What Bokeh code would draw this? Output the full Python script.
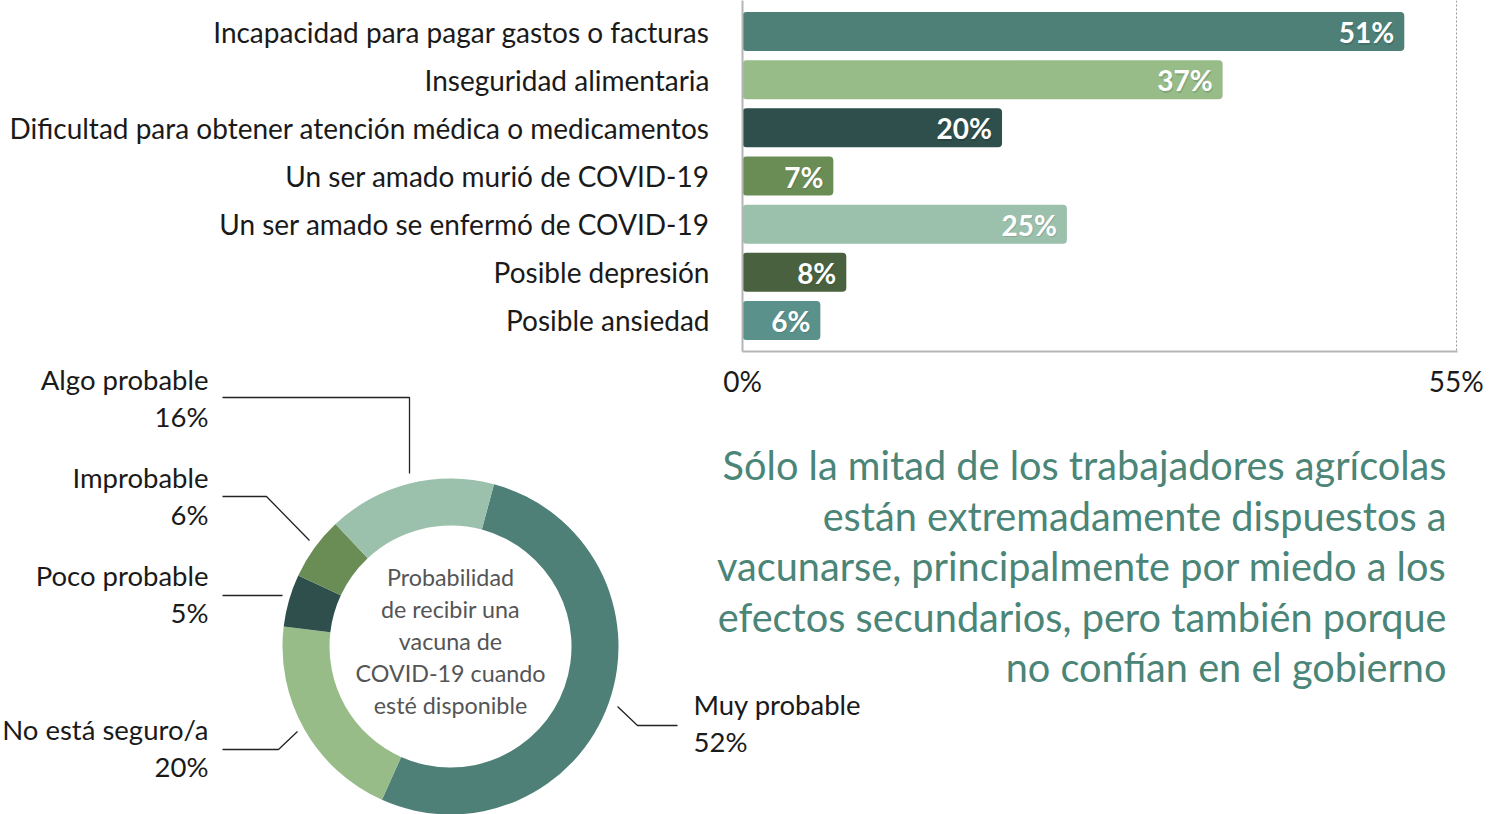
import math
from bokeh.plotting import figure
from bokeh.models import Range1d, FixedTicker, ColumnDataSource
from bokeh.layouts import column
from bokeh.embed import file_html
from bokeh.resources import INLINE
from bokeh.core.properties import value

# ---------------- data ----------------
categories = [
    "Incapacidad para pagar gastos o facturas",
    "Inseguridad alimentaria",
    "Dificultad para obtener atención médica o medicamentos",
    "Un ser amado murió de COVID-19",
    "Un ser amado se enfermó de COVID-19",
    "Posible depresión",
    "Posible ansiedad",
]
bar_values = [51, 37, 20, 7, 25, 8, 6]
bar_colors = ["#4e8078", "#97bc88", "#2e4f4c", "#6a8c55", "#9bc0ab", "#4a613f", "#5a918a"]
x_ticks = [0, 55]
x_tick_labels = ["0%", "55%"]

pie_labels = ["Muy probable", "No está seguro/a", "Poco probable", "Improbable", "Algo probable"]
pie_values = [52, 20, 5, 6, 16]
pie_colors = ["#4e8078", "#97bc88", "#2e4f4c", "#6a8c55", "#9bc0ab"]

center_lines = ["Probabilidad", "de recibir una", "vacuna de", "COVID-19 cuando", "esté disponible"]
headline_lines = [
    "Sólo la mitad de los trabajadores agrícolas",
    "están extremadamente dispuestos a",
    "vacunarse, principalmente por miedo a los",
    "efectos secundarios, pero también porque",
    "no confían en el gobierno",
]

FONT = "Lato"
TXT = "#1a1a1a"
W = 1500

# ---------------- bar chart ----------------
A_H = 411
pa = figure(width=W, height=A_H, x_range=Range1d(0, 55.1), y_range=Range1d(6.644, -0.644),
            output_backend="svg", toolbar_location=None,
            min_border_left=742, min_border_right=43, min_border_top=0, min_border_bottom=60)
pa.outline_line_color = None
src = ColumnDataSource(dict(idx=list(range(len(categories))), val=bar_values, col=bar_colors,
                            lab=[f"{v}%" for v in bar_values]))
pa.hbar(y="idx", left=0, right="val", height=0.81, fill_color="col", line_color=None, source=src,
        border_radius=4)
pa.text(x="val", y="idx", text="lab", source=src, x_offset=-9, y_offset=2, 
        text_align="right", text_baseline="middle", text_color="#000000", text_alpha=0.13,
        text_font=value(FONT), text_font_style="bold", text_font_size="28px")
pa.text(x="val", y="idx", text="lab", source=src, x_offset=-10, y_offset=0.5,
        text_align="right", text_baseline="middle", text_color="white",
        text_font=value(FONT), text_font_style="bold", text_font_size="28px")

pa.yaxis.ticker = FixedTicker(ticks=list(range(len(categories))))
pa.yaxis.major_label_overrides = {i: c for i, c in enumerate(categories)}
pa.xaxis.ticker = FixedTicker(ticks=x_ticks)
pa.xaxis.major_label_overrides = {t: l for t, l in zip(x_ticks, x_tick_labels)}
for ax in (pa.xaxis, pa.yaxis):
    ax.major_tick_out = 0
    ax.major_tick_in = 0
    ax.minor_tick_out = 0
    ax.minor_tick_in = 0
    ax.axis_line_color = "#b5b5b5"
    ax.axis_line_width = 2
    ax.major_label_text_font = FONT
    ax.major_label_text_font_size = "28px"
    ax.major_label_text_color = TXT
pa.yaxis.major_label_standoff = 33
pa.xaxis.major_label_standoff = 12
pa.ygrid.visible = False
pa.xgrid.ticker = FixedTicker(ticks=[55])
pa.xgrid.grid_line_color = "#999999"
pa.xgrid.grid_line_dash = "2 2"
pa.xgrid.grid_line_width = 1

# ---------------- donut + headline ----------------
B_TOP, B_BOTTOM = 355, 814
pb = figure(width=W, height=B_BOTTOM - B_TOP, x_range=Range1d(0, W), y_range=Range1d(0, B_BOTTOM - B_TOP),
            output_backend="svg", toolbar_location=None, min_border=0)
pb.axis.visible = False
pb.grid.visible = False
pb.outline_line_color = None
pb.background_fill_alpha = 0
pb.border_fill_alpha = 0


def Y(iy):
    return B_BOTTOM - iy


CX, CY = 450, 646
R_IN, R_OUT = 121, 168
total = sum(pie_values)
start0 = math.radians(75)
starts, ends = [], []
acc = 0
for v in pie_values:
    starts.append(start0 - 2 * math.pi * acc / total)
    acc += v
    ends.append(start0 - 2 * math.pi * acc / total)
psrc = ColumnDataSource(dict(s=starts, e=ends, col=pie_colors))
pb.annular_wedge(x=CX, y=Y(CY), inner_radius=R_IN, outer_radius=R_OUT, start_angle="s", end_angle="e",
                 direction="clock", fill_color="col", line_color=None, source=psrc)

# centre text
pb.text(x=[CX] * len(center_lines), y=[Y(576 + 32 * i) for i in range(len(center_lines))], text=center_lines,
        text_align="center", text_baseline="middle", text_color="#555555",
        text_font=value(FONT), text_font_size="23.3px")

# slice labels (layout positions: x, y of name line, align)
label_pos = {
    "Algo probable": (208, 379, "right"),
    "Improbable": (208, 477, "right"),
    "Poco probable": (208, 575, "right"),
    "No está seguro/a": (208, 729, "right"),
    "Muy probable": (693, 704, "left"),
}
lx, ly, lt, la = [], [], [], []
for name, v in zip(pie_labels, pie_values):
    x, y, a = label_pos[name]
    lx += [x, x]
    ly += [Y(y), Y(y + 37)]
    lt += [name, f"{v}%"]
    la += [a, a]
pb.text(x=lx, y=ly, text=lt, text_align=la, text_baseline="middle", text_color=TXT,
        text_font=value(FONT), text_font_size="27.5px")

leaders = [
    [(222, 397), (409, 397), (409, 473)],
    [(222, 496), (266, 496), (309, 540)],
    [(222, 595), (282, 595)],
    [(222, 749), (278, 749), (297, 731)],
    [(617, 706), (637, 725), (677, 725)],
]
pb.multi_line(xs=[[p[0] for p in l] for l in leaders], ys=[[Y(p[1]) for p in l] for l in leaders],
              line_color="#222222", line_width=1.3)

# headline
pb.text(x=[1446] * len(headline_lines), y=[Y(464 + 50.5 * i) for i in range(len(headline_lines))],
        text=headline_lines, text_align="right", text_baseline="middle", text_color="#4a8577",
        text_font=value(FONT), text_font_size="39.7px")

wrap_b = column(pb)
wrap_b.margin = (-(A_H - B_TOP), 0, 0, 0)
layout = column(column(pa), wrap_b, spacing=0)
open("out.html", "w").write(file_html(layout, INLINE))
